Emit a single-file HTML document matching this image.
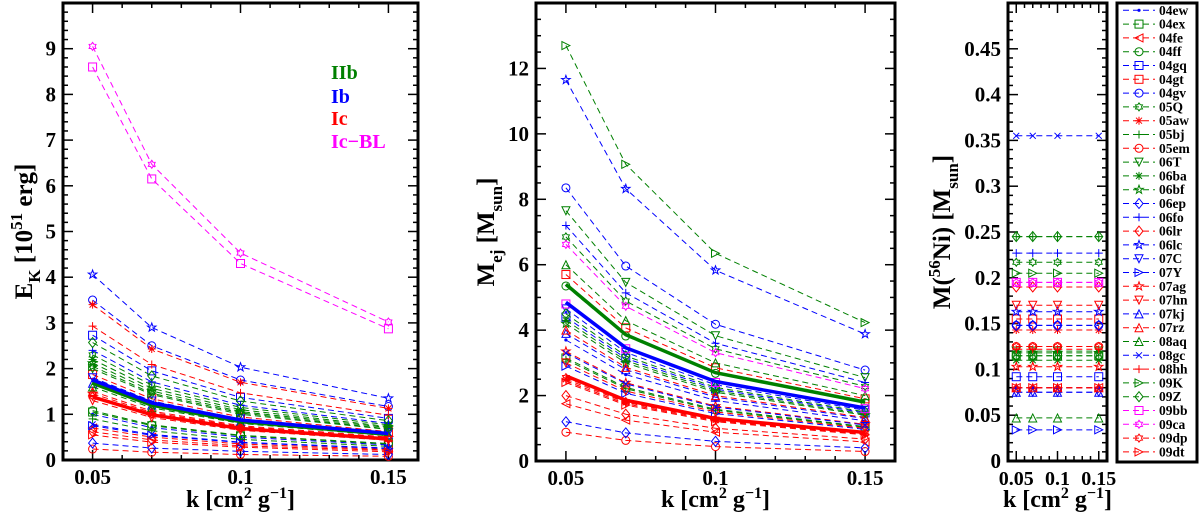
<!DOCTYPE html>
<html><head><meta charset="utf-8">
<style>
html,body{margin:0;padding:0;background:#fff;}
svg{display:block;font-family:"Liberation Serif",serif;font-weight:bold;}
</style></head>
<body>
<svg id="fig" width="1200" height="513" viewBox="0 0 1200 513" xmlns="http://www.w3.org/2000/svg"></svg>
<script>
const kVals = [0.05, 0.07, 0.1, 0.15];
const snNames = ["04ew","04ex","04fe","04ff","04gq","04gt","04gv","05Q","05aw","05bj","05em","06T","06ba","06bf","06ep","06fo","06lr","06lc","07C","07Y","07ag","07hn","07kj","07rz","08aq","08gc","08hh","09K","09Z","09bb","09ca","09dp","09dt"];
const snColors = ["b","g","r","g","b","r","b","g","r","g","r","g","g","g","b","b","r","b","b","b","r","r","b","r","g","b","r","g","g","m","m","r","r"];
const snSymbols = ["dot","square","ltri","circle","square","square","circle","hex","aster","plus","circle","dtri","aster","star","diamond","plus","diamond","star","dtri","rtri","star","dtri","utri","utri","utri","x","plus","rtri","diamond","square","hex","hex","rtri"];
const ekVals = [
[1.0,0.71,0.5,0.33],[1.05,0.75,0.53,0.35],[0.7,0.5,0.35,0.23],[1.08,0.77,0.54,0.36],
[2.73,1.95,1.37,0.91],[1.87,1.34,0.94,0.62],[3.5,2.5,1.75,1.17],[2.3,1.64,1.15,0.77],
[3.4,2.43,1.7,1.13],[0.9,0.64,0.45,0.3],[0.24,0.17,0.12,0.08],[2.0,1.43,1.0,0.67],
[2.2,1.57,1.1,0.73],[2.12,1.51,1.06,0.71],[0.37,0.26,0.19,0.12],[2.4,1.71,1.2,0.8],
[0.62,0.44,0.31,0.21],[4.06,2.9,2.03,1.35],[1.8,1.29,0.9,0.6],[0.75,0.54,0.38,0.25],
[1.45,1.04,0.73,0.48],[1.3,0.93,0.65,0.43],[1.68,1.2,0.84,0.56],[1.5,1.07,0.75,0.5],
[1.6,1.14,0.8,0.53],[0.78,0.56,0.39,0.26],[2.93,2.09,1.47,0.98],[2.05,1.46,1.03,0.68],
[2.57,1.84,1.29,0.86],[8.6,6.15,4.3,2.87],[9.05,6.47,4.53,3.02],[1.4,1.0,0.7,0.47],[0.55,0.39,0.28,0.18]];
const mejVals = [
[3.7,2.64,1.85,1.23],[3.15,2.25,1.58,1.05],[1.75,1.25,0.88,0.58],[5.35,3.82,2.68,1.78],
[4.4,3.14,2.2,1.47],[5.7,4.07,2.85,1.9],[8.35,5.96,4.18,2.78],[6.85,4.89,3.43,2.28],
[2.5,1.79,1.25,0.83],[3.1,2.21,1.55,1.03],[0.88,0.63,0.44,0.29],[7.65,5.46,3.83,2.55],
[4.3,3.07,2.15,1.43],[4.2,3.0,2.1,1.4],[1.2,0.86,0.6,0.4],[7.2,5.14,3.6,2.4],
[2.0,1.43,1.0,0.67],[11.65,8.32,5.83,3.88],[4.65,3.32,2.33,1.55],[2.9,2.07,1.45,0.97],
[3.35,2.39,1.68,1.12],[3.0,2.14,1.5,1.0],[3.9,2.79,1.95,1.3],[4.0,2.86,2.0,1.33],
[6.0,4.29,3.0,2.0],[3.3,2.36,1.65,1.1],[2.45,1.75,1.23,0.82],[12.7,9.07,6.35,4.23],
[4.5,3.21,2.25,1.5],[4.8,3.43,2.4,1.6],[6.62,4.73,3.31,2.21],[2.55,1.82,1.28,0.85],[2.4,1.71,1.2,0.8]];
const niVals = [0.08,0.115,0.08,0.115,0.092,0.155,0.148,0.217,0.143,0.245,0.125,0.12,0.11,0.118,0.148,0.227,0.19,0.163,0.075,0.034,0.103,0.17,0.075,0.08,0.047,0.355,0.122,0.205,0.245,0.195,0.195,0.125,0.08];
const meanTypes = ["IIb","Ib","Ic"];
const meanColors = ["g","b","r"];
const meanEk = [[1.68,1.2,0.84,0.56],[1.75,1.25,0.875,0.58],[1.38,0.99,0.69,0.46]];
const meanMej = [[5.4,3.86,2.7,1.8],[4.85,3.46,2.43,1.62],[2.6,1.86,1.3,0.87]];

const COL = {b:"#0000ff", g:"#008000", r:"#ff0000", m:"#ff00ff"};
const NS = "http://www.w3.org/2000/svg";
const svg = document.getElementById("fig");
function el(tag, attrs, parent){ const e=document.createElementNS(NS,tag); for(const k in attrs) e.setAttribute(k,attrs[k]); (parent||svg).appendChild(e); return e; }

function marker(g, sym, x, y, c){
  const s=4; let e;
  const st={fill:"none",stroke:c,"stroke-width":1};
  if(sym==="dot"){ e=el("circle",{cx:x,cy:y,r:1.6,fill:c},g); }
  else if(sym==="square"){ e=el("rect",Object.assign({x:x-s,y:y-s,width:2*s,height:2*s},st),g); }
  else if(sym==="circle"){ e=el("circle",Object.assign({cx:x,cy:y,r:s},st),g); }
  else if(sym==="diamond"){ e=el("polygon",Object.assign({points:`${x},${y-s-1} ${x+s},${y} ${x},${y+s+1} ${x-s},${y}`},st),g); }
  else if(sym==="utri"){ e=el("polygon",Object.assign({points:`${x},${y-s} ${x+s},${y+s} ${x-s},${y+s}`},st),g); }
  else if(sym==="dtri"){ e=el("polygon",Object.assign({points:`${x},${y+s} ${x+s},${y-s} ${x-s},${y-s}`},st),g); }
  else if(sym==="ltri"){ e=el("polygon",Object.assign({points:`${x-s},${y} ${x+s},${y-s} ${x+s},${y+s}`},st),g); }
  else if(sym==="rtri"){ e=el("polygon",Object.assign({points:`${x+s},${y} ${x-s},${y-s} ${x-s},${y+s}`},st),g); }
  else if(sym==="plus"){ e=el("path",Object.assign({d:`M${x-s},${y}H${x+s}M${x},${y-s}V${y+s}`},st),g); }
  else if(sym==="x"){ e=el("path",Object.assign({d:`M${x-3},${y-3}L${x+3},${y+3}M${x-3},${y+3}L${x+3},${y-3}`},st),g); }
  else if(sym==="aster"){ e=el("path",Object.assign({d:`M${x-s},${y}H${x+s}M${x},${y-s}V${y+s}M${x-3},${y-3}L${x+3},${y+3}M${x-3},${y+3}L${x+3},${y-3}`},st),g); }
  else if(sym==="star"){ let p=[]; for(let i=0;i<10;i++){const r=i%2?1.8:s+0.5; const a=-Math.PI/2+i*Math.PI/5; p.push((x+r*Math.cos(a)).toFixed(1)+","+(y+r*Math.sin(a)).toFixed(1));} e=el("polygon",Object.assign({points:p.join(" ")},st),g); }
  else if(sym==="hex"){ let p=[]; for(let i=0;i<12;i++){const r=i%2?2.5:s; const a=-Math.PI/2+i*Math.PI/6; p.push((x+r*Math.cos(a)).toFixed(1)+","+(y+r*Math.sin(a)).toFixed(1));} e=el("polygon",Object.assign({points:p.join(" ")},st),g); }
  
  
  return e;
}

function panel(cfg){
  const {name,x0,x1,y0,y1,xmin,xmax,ymin,ymax,ymajor,yminor,yfmt} = cfg;
  const g = el("g",{});
  
  
  const sx = v => x0 + (v-xmin)/(xmax-xmin)*(x1-x0);
  const sy = v => y1 - (v-ymin)/(ymax-ymin)*(y1-y0);
  const tg = el("g",{stroke:"#000","stroke-width":1.5},g);
  
  
  for(let i=0;;i++){ const v=ymin+i*yminor; if(v>ymax+1e-9)break; const major=Math.abs(v/ymajor-Math.round(v/ymajor))<1e-6; const L=major?10:5; const y=sy(v);
    el("line",{x1:x0,y1:y,x2:x0+L,y2:y},tg); el("line",{x1:x1,y1:y,x2:x1-L,y2:y},tg);
    if(major && v<ymax-1e-9){ const t=el("text",{x:x0-7,y:y+7,"text-anchor":"end","font-size":cfg.yfs||21,stroke:"none",fill:"#000"},g); t.textContent=yfmt(v);
        }
  }
  for(let i=0;i<=12;i++){ const v=0.04+i*0.01; const major=(i===1||i===6||i===11); const L=major?10:5; const x=sx(v);
    el("line",{x1:x,y1:y1,x2:x,y2:y1-L},tg); el("line",{x1:x,y1:y0,x2:x,y2:y0+L},tg);
  }
  ["0.05","0.1","0.15"].forEach((lab,i)=>{ const t=el("text",{x:sx([0.05,0.1,0.15][i]),y:y1+24,"text-anchor":"middle","font-size":cfg.xfs||21},g); t.textContent=lab;
      });
  const fr = el("rect",{x:x0,y:y0,width:x1-x0,height:y1-y0,fill:"none",stroke:"#000","stroke-width":3},g);
   
  const xt=el("text",{x:(x0+x1)/2,y:507,"text-anchor":"middle","font-size":24},g);
  xt.innerHTML='k [cm<tspan dy="-9" font-size="16">2</tspan><tspan dy="9"> g</tspan><tspan dy="-9" font-size="16">−1</tspan><tspan dy="9">]</tspan>';
   
  const yt=el("text",{transform:`translate(${cfg.ytx},${(y0+y1)/2}) rotate(-90)`,"text-anchor":"middle","font-size":25},g);
  yt.innerHTML=cfg.ytitle;
   
  return {g,sx,sy};
}

function drawSeries(p, vals, pname){
  const sg = el("g",{},p.g);
  
  
  snNames.forEach((n,i)=>{
    const c=COL[snColors[i]];
    const pts=kVals.map((k,j)=>p.sx(k).toFixed(1)+","+p.sy(vals(i,j)).toFixed(1)).join(" ");
    const pl=el("polyline",{points:pts,fill:"none",stroke:c,"stroke-width":1,"stroke-dasharray":"6,4"},sg);
    
    
    kVals.forEach((k,j)=>marker(sg,snSymbols[i],p.sx(k),p.sy(vals(i,j)),c));
  });
}
function drawMeans(p, arr, pname){
  meanTypes.forEach((t,i)=>{
    const pts=kVals.map((k,j)=>p.sx(k).toFixed(1)+","+p.sy(arr[i][j]).toFixed(1)).join(" ");
    const pl=el("polyline",{points:pts,fill:"none",stroke:COL[meanColors[i]],"stroke-width":3.5},p.g);
    
    
  });
}

const P1 = panel({name:"ek-panel",x0:63,x1:418,y0:3,y1:460,xmin:0.04,xmax:0.16,ymin:0,ymax:10,ymajor:1,yminor:0.2,yfmt:v=>String(Math.round(v)),ytx:32,
  ytitle:'E<tspan dy="8" font-size="17">K</tspan><tspan dy="-8"> [10</tspan><tspan dy="-10" font-size="17">51</tspan><tspan dy="10"> erg]</tspan>'});
drawSeries(P1,(i,j)=>ekVals[i][j],"ek");
drawMeans(P1,meanEk,"ek");
const legTypes=[["IIb","g",72],["Ib","b",96],["Ic","r",118],["Ic−BL","m",141]];
legTypes.forEach(([t,c,y])=>{ const e=el("text",{x:331,y:y+7,"font-size":20,fill:COL[c]},P1.g); e.textContent=t;
    });

const P2 = panel({name:"mej-panel",x0:536,x1:895,y0:3,y1:461,xmin:0.04,xmax:0.16,ymin:0,ymax:14,ymajor:2,yminor:0.5,yfmt:v=>String(Math.round(v)),ytx:494,
  ytitle:'M<tspan dy="8" font-size="17">ej</tspan><tspan dy="-8"> [M</tspan><tspan dy="8" font-size="17">sun</tspan><tspan dy="-8">]</tspan>'});
drawSeries(P2,(i,j)=>mejVals[i][j],"mej");
drawMeans(P2,meanMej,"mej");

const P3 = panel({name:"ni-panel",x0:1008,x1:1107,y0:3,y1:461,xmin:0.04,xmax:0.16,ymin:0,ymax:0.5,ymajor:0.05,yminor:0.01,xfs:20,yfs:21,
  yfmt:v=>{const r=Math.round(v*100)/100; return r===0?"0":String(r);},ytx:950,
  ytitle:'M(<tspan dy="-10" font-size="17">56</tspan><tspan dy="10">Ni) [M</tspan><tspan dy="8" font-size="17">sun</tspan><tspan dy="-8">]</tspan>'});
drawSeries(P3,(i,j)=>niVals[i],"ni");

const lg = el("g",{});


const lb=el("rect",{x:1117,y:3,width:80,height:459,fill:"#fff",stroke:"#000","stroke-width":3},lg);
 
snNames.forEach((n,i)=>{
  const y=10.3+i*13.8, c=COL[snColors[i]];
  const ln=el("line",{x1:1123,y1:y,x2:1155,y2:y,stroke:c,"stroke-width":1,"stroke-dasharray":"6,4"},lg);
   
  const m=marker(lg,snSymbols[i],1139,y,c);
  
  const t=el("text",{x:1159,y:y+4.5,"font-size":13.5},lg); t.textContent=n;
   
});
</script>
</body></html>
